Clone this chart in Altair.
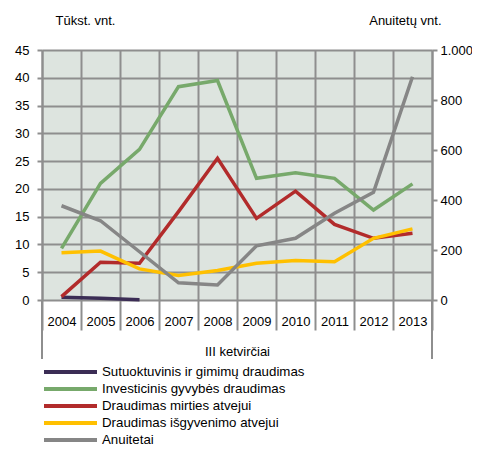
import altair as alt
import pandas as pd

years = ["2004", "2005", "2006", "2007", "2008", "2009", "2010", "2011", "2012", "2013"]
series_names = [
    "Sutuoktuvinis ir gimimų draudimas",
    "Investicinis gyvybės draudimas",
    "Draudimas mirties atvejui",
    "Draudimas išgyvenimo atvejui",
    "Anuitetai",
]
colors = ["#3b2d55", "#77a96b", "#b22b2b", "#ffc000", "#868686"]

sutuoktuvinis = [0.5, 0.3, 0.05, None, None, None, None, None, None, None]
investicinis = [9.3, 21.0, 27.1, 38.4, 39.5, 21.9, 22.9, 21.9, 16.2, 20.9]
mirties = [0.6, 6.8, 6.6, 15.9, 25.5, 14.7, 19.6, 13.6, 11.1, 12.0]
isgyvenimo = [8.5, 8.8, 5.6, 4.4, 5.3, 6.6, 7.1, 6.9, 11.1, 12.8]
anuitetai = [377, 317, 193, 69, 60, 217, 247, 347, 431, 893]

left_ticks = [0, 5, 10, 15, 20, 25, 30, 35, 40, 45]
right_ticks = [0, 200, 400, 600, 800, 1000]

FONT = "Liberation Sans, Arial, sans-serif"
FS = 13
GRID = "#8e8e8e"

rows = []
for name, vals in zip(series_names[:4], [sutuoktuvinis, investicinis, mirties, isgyvenimo]):
    for y, v in zip(years, vals):
        if v is not None:
            rows.append({"year": y, "series": name, "value": v})
left_df = pd.DataFrame(rows)
right_df = pd.DataFrame({"year": years, "series": series_names[4], "value": anuitetai})


def xenc(band=0.5):
    return alt.X(
        "year:O",
        sort=years,
        bandPosition=band,
        scale=alt.Scale(type="band", paddingInner=0, paddingOuter=0),
        axis=alt.Axis(
            title="III ketvirčiai",
            labelAngle=0,
            tickBand="extent",
            grid=True,
            gridColor=GRID,
            gridWidth=2,
            tickSize=30,
            tickColor=GRID,
            tickWidth=2,
            labelPadding=-4.5,
            labelBaseline="alphabetic",
            domain=False,
            titleX=195,
            titleY=55,
            titleBaseline="alphabetic",
            titleAlign="center",
        ),
    )


color_enc = alt.Color(
    "series:N",
    scale=alt.Scale(domain=series_names, range=colors),
    sort=series_names,
    legend=alt.Legend(
        title=None,
        orient="none",
        legendX=0,
        legendY=314,
        symbolType="stroke",
        symbolSize=2809,
        symbolStrokeWidth=4,
        clipHeight=16,
        rowPadding=1,
        labelOffset=3,
        labelFontSize=FS + 0.3,
        labelFont=FONT,
        labelColor="#000000",
        labelLimit=0,
        padding=0,
    ),
)

left_lines = alt.Chart(left_df).mark_line(strokeWidth=3.5).encode(
    x=xenc(),
    y=alt.Y(
        "value:Q",
        scale=alt.Scale(domain=[0, 45]),
        axis=alt.Axis(
            values=left_ticks,
            title="Tūkst. vnt.",
            titleAngle=0,
            titleAlign="left",
            titleBaseline="alphabetic",
            titleX=13,
            titleY=-25.5,
            grid=True,
            gridColor=GRID,
            gridWidth=2,
            tickSize=5,
            tickColor=GRID,
            tickWidth=2,
            domainColor=GRID,
            domainWidth=2,
            labelPadding=8,
        ),
    ),
    color=color_enc,
)

right_line = alt.Chart(right_df).mark_line(strokeWidth=3.5).encode(
    x=xenc(),
    y=alt.Y(
        "value:Q",
        scale=alt.Scale(domain=[0, 1000]),
        axis=alt.Axis(
            orient="right",
            values=right_ticks,
            labelExpr="datum.value == 1000 ? '1.000' : datum.label",
            title="Anuitetų vnt.",
            titleAngle=0,
            titleAlign="right",
            titleBaseline="alphabetic",
            titleX=9,
            titleY=-25.5,
            grid=False,
            tickSize=5,
            tickColor=GRID,
            tickWidth=2,
            domainColor=GRID,
            domainWidth=2,
            labelPadding=3,
        ),
    ),
    color=color_enc,
)

edge_left = alt.Chart(pd.DataFrame({"year": [years[0]]})).mark_rule(
    color=GRID, strokeWidth=2
).encode(x=xenc(0), y=alt.value(250), y2=alt.value(309))
edge_right = alt.Chart(pd.DataFrame({"year": [years[-1]]})).mark_rule(
    color=GRID, strokeWidth=2
).encode(x=xenc(1), y=alt.value(250), y2=alt.value(309))

chart = (
    alt.layer(left_lines, right_line, edge_left, edge_right)
    .resolve_scale(y="independent")
    .properties(
        width=390,
        height=250,
        autosize=alt.AutoSizeParams(type="none"),
        padding={"left": 34, "top": 42, "right": 40, "bottom": 148},
    )
    .configure_view(fill="#dde4df", stroke=None)
    .configure_axis(
        labelFont=FONT,
        titleFont=FONT,
        labelFontSize=FS,
        titleFontSize=FS,
        labelColor="#000000",
        titleColor="#000000",
        titleFontWeight="normal",
    )
)

chart.save("out.html", embed_options={"renderer": "svg", "actions": False})
